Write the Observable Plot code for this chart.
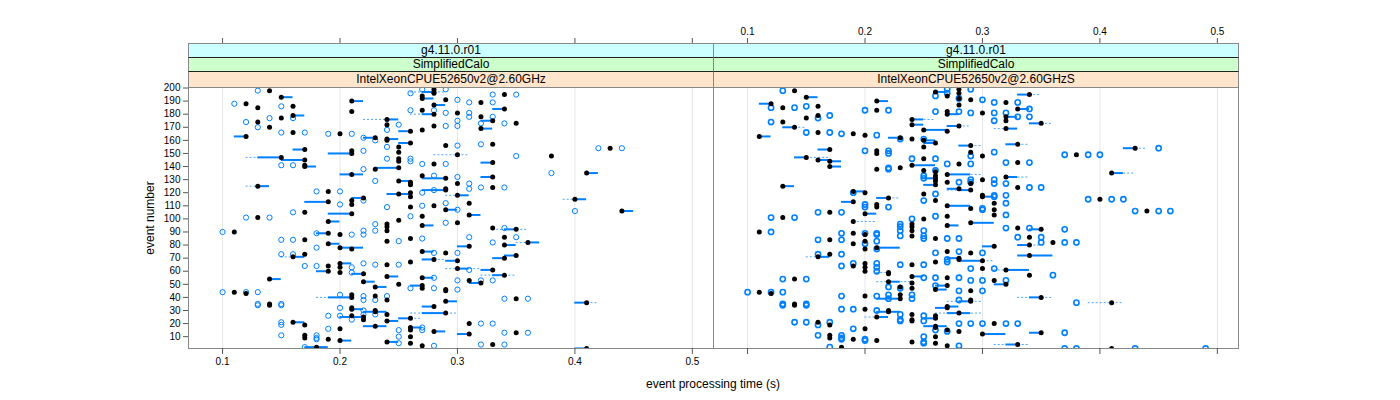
<!DOCTYPE html>
<html><head><meta charset="utf-8">
<script src="https://cdn.jsdelivr.net/npm/d3@7"></script>
<script src="https://cdn.jsdelivr.net/npm/@observablehq/plot@0.6"></script>
<style>
body{margin:0;background:#fff;}
#chart{position:relative;width:1400px;height:400px;font-family:"Liberation Sans",Arial,sans-serif;overflow:hidden;}
.strip{position:absolute;box-sizing:border-box;border-top:1px solid #222;border-left:1px solid #888;border-right:1px solid #888;font-size:12px;text-align:center;color:#000;}
.pl{position:absolute;top:0;}
.lab{position:absolute;font-size:12px;color:#000;white-space:nowrap;}
</style></head><body><div id="chart"></div>
<script>
// ---- tick labels / categories ----
const xTicks = [0.1, 0.2, 0.3, 0.4, 0.5];
const yTicks = [10,20,30,40,50,60,70,80,90,100,110,120,130,140,150,160,170,180,190,200];
const stripLevels = ["g4.11.0.r01", "SimplifiedCalo"];
const cpuLeft = "IntelXeonCPUE52650v2@2.60GHz";
const cpuRight = "IntelXeonCPUE52650v2@2.60GHzS";

// ---- left panel: [event, seconds] ----
const leftMedians = [[199,.28],[198,.14],[197,.28],[196,.28],[195,.34],[194,.27],[193,.15],[192,.27],[191,.29],[190,.21],[189,.32],[188,.12],[187,.28],[186,.16],[185,.13],[184,.34],[183,.27],[182,.21],[181,.30],[180,.28],[179,.16],[178,.32],[177,.15],[176,.24],[175,.33],[174,.13],[173,.35],[172,.24],[171,.28],[170,.14],[169,.32],[168,.27],[167,.26],[166,.16],[165,.20],[163,.12],[162,.23],[161,.24],[160,.24],[158,.26],[157,.33],[156,.29],[155,.25],[154,.43],[153,.17],[152,.21],[151,.25],
[150,.21],[149,.30],[148,.38],[147,.15],[146,.25],[145,.17],[144,.25],[143,.33],[142,.28],[141,.17],[140,.17],[139,.25],[138,.23],[135,.41],[134,.21],[133,.27],[132,.33],[131,.29],[129,.25],[128,.26],[127,.30],[126,.26],[125,.13],[124,.33],[123,.29],[122,.29],[121,.19],[120,.26],[119,.25],[118,.30],[117,.26],[116,.22],[115,.40],[114,.21],[113,.19],[112,.31],[111,.21],[110,.28],[109,.26],[107,.29],[106,.44],[105,.17],[104,.21],[103,.31],[102,.27],[101,.13],
[99,.25],[98,.19],[97,.30],[96,.24],[95,.27],[94,.24],[93,.33],[92,.35],[91,.24],[90,.11],[89,.19],[88,.20],[86,.34],[85,.26],[84,.17],[83,.24],[82,.36],[81,.19],[80,.34],[79,.31],[78,.20],[77,.21],[75,.27],[74,.29],[73,.17],[72,.35],[71,.16],[70,.34],[69,.28],[68,.30],[67,.26],[66,.20],[65,.24],[64,.19],[63,.20],[62,.30],[61,.33],[60,.19],[59,.20],[58,.22],[57,.34],[56,.24],[55,.27],[54,.14],[53,.31],[52,.22],[51,.32],
[50,.25],[49,.27],[48,.23],[47,.27],[46,.29],[45,.29],[44,.11],[43,.12],[42,.21],[41,.23],[40,.21],[39,.35],[38,.24],[37,.29],[36,.41],[35,.14],[34,.14],[33,.28],[32,.21],[31,.21],[30,.23],[29,.23],[28,.29],[27,.24],[26,.21],[25,.22],[24,.26],[23,.22],[22,.24],[21,.16],[20,.31],[19,.17],[18,.23],[17,.26],[16,.20],[15,.26],[14,.28],[13,.35],[12,.31],[11,.17],[10,.26],[9,.17],[8,.19],[7,.20],[6,.24],[5,.26],[4,.33],[3,.27],[2,.18],[1,.41]];

const leftBoxes = [[197,.27,.28],[193,.15,.16],[192,.27,.28],[190,.21,.22],[187,.28,.29],[184,.33,.34],[180,.27,.28],[179,.16,.17],[176,.24,.25],[175,.32,.33],[169,.32,.33],[167,.25,.26],[163,.11,.12],[162,.22,.23],[161,.24,.25],[158,.25,.26],[153,.16,.17],[150,.19,.21],[147,.13,.15],[145,.15,.17],[143,.32,.33],[140,.17,.18],[139,.23,.25],[135,.41,.42],[134,.20,.22],[132,.32,.33],[131,.27,.29],[129,.25,.26],[125,.13,.14],[122,.27,.29],[119,.24,.26],[118,.30,.31],[116,.21,.22],[115,.40,.41],[113,.17,.19],[107,.29,.30],[106,.44,.45],[104,.19,.21],[103,.31,.32],[98,.19,.20],[95,.27,.28],[92,.34,.35],[89,.18,.19],[82,.36,.37],[81,.19,.20],[80,.34,.35],[79,.30,.31],[78,.20,.22],[75,.27,.28],[72,.34,.35],[71,.16,.17],[70,.33,.34],[69,.27,.28],[68,.29,.30],[66,.20,.21],[62,.30,.31],[61,.32,.33],[60,.18,.19],[58,.21,.22],[57,.33,.34],[56,.24,.25],[55,.27,.28],[54,.14,.15],[52,.22,.23],[51,.31,.32],[49,.26,.27],[48,.23,.24],[40,.19,.21],[37,.29,.30],[36,.40,.41],[33,.27,.28],[31,.21,.22],[29,.22,.24],[28,.27,.29],[25,.20,.22],[24,.25,.26],[22,.24,.25],[21,.16,.17],[18,.22,.24],[17,.26,.27],[14,.28,.29],[12,.30,.31],[7,.20,.21],[6,.24,.25],[2,.17,.19],[1,.40,.41]];

const leftWhiskers = [[197,.26,.29],[180,.26,.28],[176,.22,.25],[149,.28,.31],[147,.12,.15],[125,.12,.14],[118,.29,.31],[115,.39,.41],[92,.33,.36],[82,.35,.37],[71,.15,.17],[69,.27,.29],[62,.29,.32],[57,.32,.35],[40,.18,.21],[36,.40,.42],[28,.26,.30],[25,.20,.22],[24,.25,.27]];

const leftOutliers = [[199,.27],[199,.29],[198,.13],[196,.26],[195,.33],[195,.35],[191,.30],[189,.31],[189,.33],[188,.11],[186,.15],[183,.26],[183,.28],[181,.29],[181,.31],[178,.31],[178,.33],[177,.14],[177,.16],[175,.30],[174,.12],[173,.34],[173,.32],[172,.25],[171,.29],[171,.30],[170,.13],[168,.24],[166,.15],[166,.17],[165,.19],[165,.21],[162,.22],[160,.23],[157,.32],[156,.30],[155,.24],[154,.42],[154,.44],[152,.22],[148,.35],[146,.24],[146,.26],[144,.26],[142,.27],[142,.29],[141,.15],[141,.16],[138,.22],[135,.38],[133,.28],[132,.30],[129,.23],[127,.31],[124,.32],[124,.34],[123,.31],[122,.28],[121,.18],[121,.20],[120,.27],[114,.22],[112,.29],[111,.20],[110,.27],[109,.24],[107,.30],[106,.40],[105,.16],[102,.26],[101,.12],[101,.14],
[97,.29],[96,.23],[93,.34],[91,.22],[91,.23],[90,.10],[89,.18],[88,.21],[88,.22],[86,.35],[86,.31],[85,.27],[84,.15],[84,.16],[83,.25],[82,.33],[78,.18],[74,.30],[74,.28],[73,.15],[73,.16],[66,.22],[65,.23],[65,.25],[64,.17],[64,.18],[63,.21],[61,.31],[59,.21],[55,.28],[53,.30],[53,.32],[53,.33],[47,.26],[47,.28],[46,.30],[44,.10],[44,.12],[44,.13],[42,.20],[41,.22],[41,.24],[39,.34],[39,.36],[38,.23],[38,.22],[35,.13],[35,.15],[34,.13],[34,.15],[32,.20],[30,.22],[27,.23],[27,.22],[26,.20],[26,.19],[23,.21],[21,.15],[20,.32],[20,.33],[19,.15],[17,.27],[16,.19],[15,.25],[15,.27],[13,.34],[13,.36],[11,.15],[11,.18],[10,.25],[9,.18],[8,.18],[5,.25],[4,.32],[4,.34],[3,.28],[2,.17]];

// ---- right panel: [event, seconds] ----
const rightMedians = [[199,.28],[198,.14],[197,.26],[196,.28],[195,.34],[194,.27],[193,.15],[192,.28],[191,.29],[190,.21],[189,.32],[188,.12],[187,.28],[186,.16],[185,.13],[184,.33],[183,.21],[182,.27],[181,.30],[180,.27],[179,.16],[178,.32],[177,.15],[176,.24],[175,.32],[174,.13],[173,.35],[172,.24],[171,.28],[170,.14],[169,.32],[168,.25],[167,.27],[166,.16],[165,.19],[164,.20],[163,.11],[162,.23],[161,.24],[160,.25],[158,.26],[157,.33],[156,.29],[155,.25],[154,.43],[153,.17],[152,.21],[151,.29],
[150,.21],[149,.38],[148,.30],[147,.15],[146,.25],[145,.16],[144,.17],[143,.33],[142,.28],[141,.24],[140,.17],[139,.23],[138,.21],[137,.25],[136,.26],[135,.41],[134,.27],[133,.26],[132,.32],[131,.26],[130,.30],[129,.26],[128,.27],[127,.29],[126,.26],[125,.13],[124,.33],[123,.28],[122,.29],[121,.19],[120,.20],[119,.25],[118,.30],[117,.30],[116,.22],[115,.40],[114,.26],[113,.19],[112,.31],[111,.21],[110,.27],[109,.21],[108,.29],[107,.31],[106,.44],[105,.17],[104,.20],[103,.31],[102,.27],[101,.13],
[100,.25],[98,.19],[97,.29],[96,.24],[95,.27],[94,.24],[93,.33],[92,.35],[91,.24],[90,.11],[89,.19],[88,.20],[87,.24],[86,.34],[85,.26],[84,.17],[83,.20],[82,.36],[81,.19],[80,.34],[79,.31],[78,.21],[77,.20],[75,.27],[74,.29],[73,.17],[72,.34],[71,.16],[70,.28],[69,.28],[68,.30],[67,.26],[66,.20],[65,.24],[64,.19],[63,.20],[62,.30],[61,.32],[60,.20],[59,.22],[58,.22],[57,.34],[56,.24],[55,.27],[54,.14],[53,.31],[52,.22],[51,.24],
[50,.32],[49,.27],[48,.23],[47,.24],[46,.26],[45,.29],[44,.11],[43,.12],[42,.23],[41,.20],[40,.35],[39,.23],[38,.29],[37,.29],[36,.41],[35,.14],[34,.14],[33,.27],[32,.27],[31,.20],[30,.22],[29,.22],[28,.28],[27,.24],[26,.26],[25,.21],[24,.26],[23,.24],[22,.24],[21,.16],[20,.31],[19,.17],[18,.26],[17,.26],[16,.20],[15,.27],[14,.28],[13,.35],[12,.30],[11,.17],[10,.26],[9,.17],[8,.19],[7,.21],[6,.24],[5,.26],[4,.33],[3,.27],[2,.18],[1,.41]];

const rightBoxes = [[197,.26,.27],[195,.33,.34],[193,.15,.16],[190,.21,.22],[188,.11,.12],[184,.33,.34],[180,.27,.28],[178,.32,.33],[176,.24,.25],[173,.34,.35],[172,.24,.25],[171,.27,.28],[170,.13,.14],[169,.32,.33],[168,.25,.27],[163,.11,.12],[162,.22,.23],[160,.25,.26],[158,.25,.26],[157,.32,.33],[156,.28,.29],[154,.42,.43],[153,.16,.17],[147,.14,.15],[145,.16,.17],[144,.17,.18],[141,.24,.26],[140,.17,.18],[135,.41,.42],[134,.27,.29],[132,.32,.33],[131,.25,.26],[126,.25,.26],[125,.13,.14],[123,.27,.28],[122,.28,.29],[121,.19,.20],[117,.30,.31],[116,.21,.22],[113,.18,.19],[110,.27,.29],[104,.20,.21],[97,.29,.31],[95,.27,.28],[92,.34,.35],[80,.33,.34],[79,.30,.31],[78,.21,.23],[72,.33,.36],[71,.16,.17],[70,.27,.28],[68,.28,.30],[61,.32,.34],[56,.24,.25],[52,.22,.23],[50,.31,.32],[49,.26,.27],[46,.26,.27],[40,.34,.35],[39,.21,.23],[37,.28,.29],[33,.27,.28],[32,.26,.27],[29,.21,.23],[28,.27,.29],[25,.21,.22],[24,.25,.26],[18,.25,.27],[13,.34,.35],[12,.30,.32],[4,.32,.33]];

const rightWhiskers = [[195,.33,.35],[176,.24,.26],[173,.34,.36],[171,.27,.29],[170,.13,.15],[169,.31,.33],[157,.32,.34],[156,.28,.30],[154,.42,.44],[147,.14,.17],[144,.17,.18],[135,.41,.43],[134,.27,.30],[132,.32,.34],[122,.27,.29],[116,.21,.23],[98,.19,.21],[80,.33,.35],[78,.21,.23],[71,.15,.17],[68,.28,.31],[61,.31,.34],[59,.21,.22],[52,.21,.24],[40,.33,.36],[37,.27,.30],[36,.39,.42],[28,.26,.30],[25,.20,.22],[12,.30,.32],[4,.31,.34]];

const rightOutliers = [[199,.27],[199,.29],[198,.13],[196,.27],[194,.26],[192,.28],[191,.30],[189,.31],[189,.33],[186,.15],[185,.14],[185,.12],[184,.34],[183,.20],[183,.22],[182,.26],[182,.28],[181,.29],[181,.31],[181,.32],[179,.17],[178,.33],[178,.34],[177,.16],[175,.31],[174,.12],[166,.15],[166,.17],[165,.18],[164,.21],[161,.23],[161,.25],[154,.45],[152,.20],[152,.22],[151,.31],[150,.22],[149,.37],[149,.39],[149,.40],[148,.29],[146,.24],[146,.26],[143,.32],[143,.34],[142,.27],[142,.29],[139,.22],[138,.22],[137,.26],[133,.25],[131,.25],[130,.29],[130,.31],[128,.28],[128,.29],[127,.31],[127,.32],[124,.34],[124,.35],[120,.19],[119,.26],[118,.31],[118,.32],[117,.31],[115,.39],[115,.41],[115,.42],[114,.25],[112,.32],[111,.20],[109,.20],[109,.22],[108,.30],[107,.30],[106,.43],[106,.45],[106,.46],[105,.16],[105,.18],[103,.32],[102,.26],[101,.12],[101,.14],
[100,.24],[96,.23],[94,.23],[93,.32],[93,.34],[92,.37],[91,.23],[91,.25],[90,.12],[89,.18],[89,.20],[89,.21],[88,.21],[87,.23],[87,.25],[86,.33],[86,.35],[85,.25],[85,.27],[85,.28],[84,.16],[84,.18],[83,.21],[82,.37],[82,.38],[82,.35],[81,.20],[77,.21],[75,.28],[74,.30],[74,.26],[73,.16],[73,.18],[69,.27],[67,.27],[66,.21],[66,.19],[65,.23],[65,.25],[64,.18],[63,.21],[62,.29],[62,.31],[60,.21],[57,.36],[55,.25],[55,.26],[55,.28],[54,.13],[54,.15],[53,.29],[53,.30],[53,.32],[49,.26],[48,.22],[47,.23],[45,.30],[45,.28],[44,.10],[44,.12],[44,.13],[42,.22],[42,.24],[41,.21],[41,.18],[39,.22],[39,.24],[38,.28],[36,.38],[35,.13],[35,.15],[34,.13],[34,.15],[31,.18],[31,.19],[30,.21],[27,.23],[26,.25],[23,.23],[22,.23],[22,.25],[21,.14],[21,.15],[21,.17],[20,.28],[20,.29],[20,.30],[20,.32],[20,.33],[19,.16],[16,.19],[15,.26],[14,.27],[13,.37],[11,.16],[11,.18],[10,.25],[9,.18],[8,.18],[8,.20],[7,.20],[6,.25],[5,.25],[3,.28],[2,.17],[1,.37],[1,.38],[1,.43],[1,.49]];

// ---- drawing ----
const xDomain = [0.071, 0.518];
const yDomain = [0.95, 200.4];
const blue = "#0080ff";
const fmt = d3.format(".1f");
const none = () => "";

function panel(side, med, box, whisk, out, outWidth) {
  const isLeft = side === "left";
  const marks = [
    Plot.ruleX(xTicks, {stroke: "#e6e6e6"}),
    Plot.ruleY(whisk, {y: d => d[0], x1: d => d[1], x2: d => d[2], stroke: blue, strokeWidth: 1, strokeDasharray: "2,2", strokeOpacity: 0.7, clip: true}),
    Plot.ruleY(box, {y: d => d[0], x1: d => d[1], x2: d => d[2], stroke: blue, strokeWidth: 2, clip: true}),
    Plot.dot(out, {x: d => d[1], y: d => d[0], r: 2.6, stroke: blue, fill: "none", strokeWidth: outWidth, clip: true}),
    Plot.dot(med, {x: d => d[1], y: d => d[0], r: 2.5, fill: "#000", stroke: "none", clip: true}),
    Plot.frame({stroke: "#888"}),
    Plot.axisX({anchor: "bottom", ticks: xTicks, tickSize: 6, tickPadding: 3, label: null, stroke: "#555", tickFormat: isLeft ? fmt : none}),
    Plot.axisX({anchor: "top", ticks: xTicks, tickSize: 6, tickPadding: 3, label: null, stroke: "#555", dy: -44, tickFormat: isLeft ? none : fmt})
  ];
  if (isLeft) marks.push(Plot.axisY({anchor: "left", ticks: yTicks, tickSize: 5, tickPadding: 3, label: null, stroke: "#555"}));
  return Plot.plot({
    width: isLeft ? 583 : 533,
    height: 400,
    marginLeft: isLeft ? 58 : 0,
    marginRight: isLeft ? 0 : 8,
    marginTop: 87,
    marginBottom: 52,
    x: {domain: xDomain},
    y: {domain: yDomain, axis: null},
    style: {fontFamily: "'Liberation Sans', Arial, sans-serif", fontSize: "10px", background: "transparent", overflow: "visible", color: "#000"},
    marks
  });
}

const chart = document.getElementById("chart");
const left = panel("left", leftMedians, leftBoxes, leftWhiskers, leftOutliers, 1);
left.classList.add("pl"); left.style.left = "130px";
const right = panel("right", rightMedians, rightBoxes, rightWhiskers, rightOutliers, 1.6);
right.classList.add("pl"); right.style.left = "713px";
chart.appendChild(left);
chart.appendChild(right);

function strips(x0, w, cpu) {
  const specs = [[stripLevels[0], "#ccffff", 43, 14], [stripLevels[1], "#ccffcc", 57, 14], [cpu, "#ffe5cc", 71, 16]];
  for (const [txt, bg, top, h] of specs) {
    const d = document.createElement("div");
    d.className = "strip";
    d.style.left = x0 + "px"; d.style.width = (w + 1) + "px";
    d.style.top = top + "px"; d.style.height = h + "px";
    d.style.lineHeight = (h - 1) + "px";
    d.style.background = bg;
    if (top === 43) d.style.borderTopColor = "#888";
    d.textContent = txt;
    chart.appendChild(d);
  }
}
strips(188, 525, cpuLeft);
strips(713, 525, cpuRight);

const yl = document.createElement("div");
yl.className = "lab"; yl.textContent = "event number";
yl.style.left = "150px"; yl.style.top = "218px";
yl.style.transform = "translate(-50%,-50%) rotate(-90deg)";
chart.appendChild(yl);

const xl = document.createElement("div");
xl.className = "lab"; xl.textContent = "event processing time (s)";
xl.style.left = "713px"; xl.style.top = "384px";
xl.style.transform = "translate(-50%,-50%)";
chart.appendChild(xl);
</script></body></html>
